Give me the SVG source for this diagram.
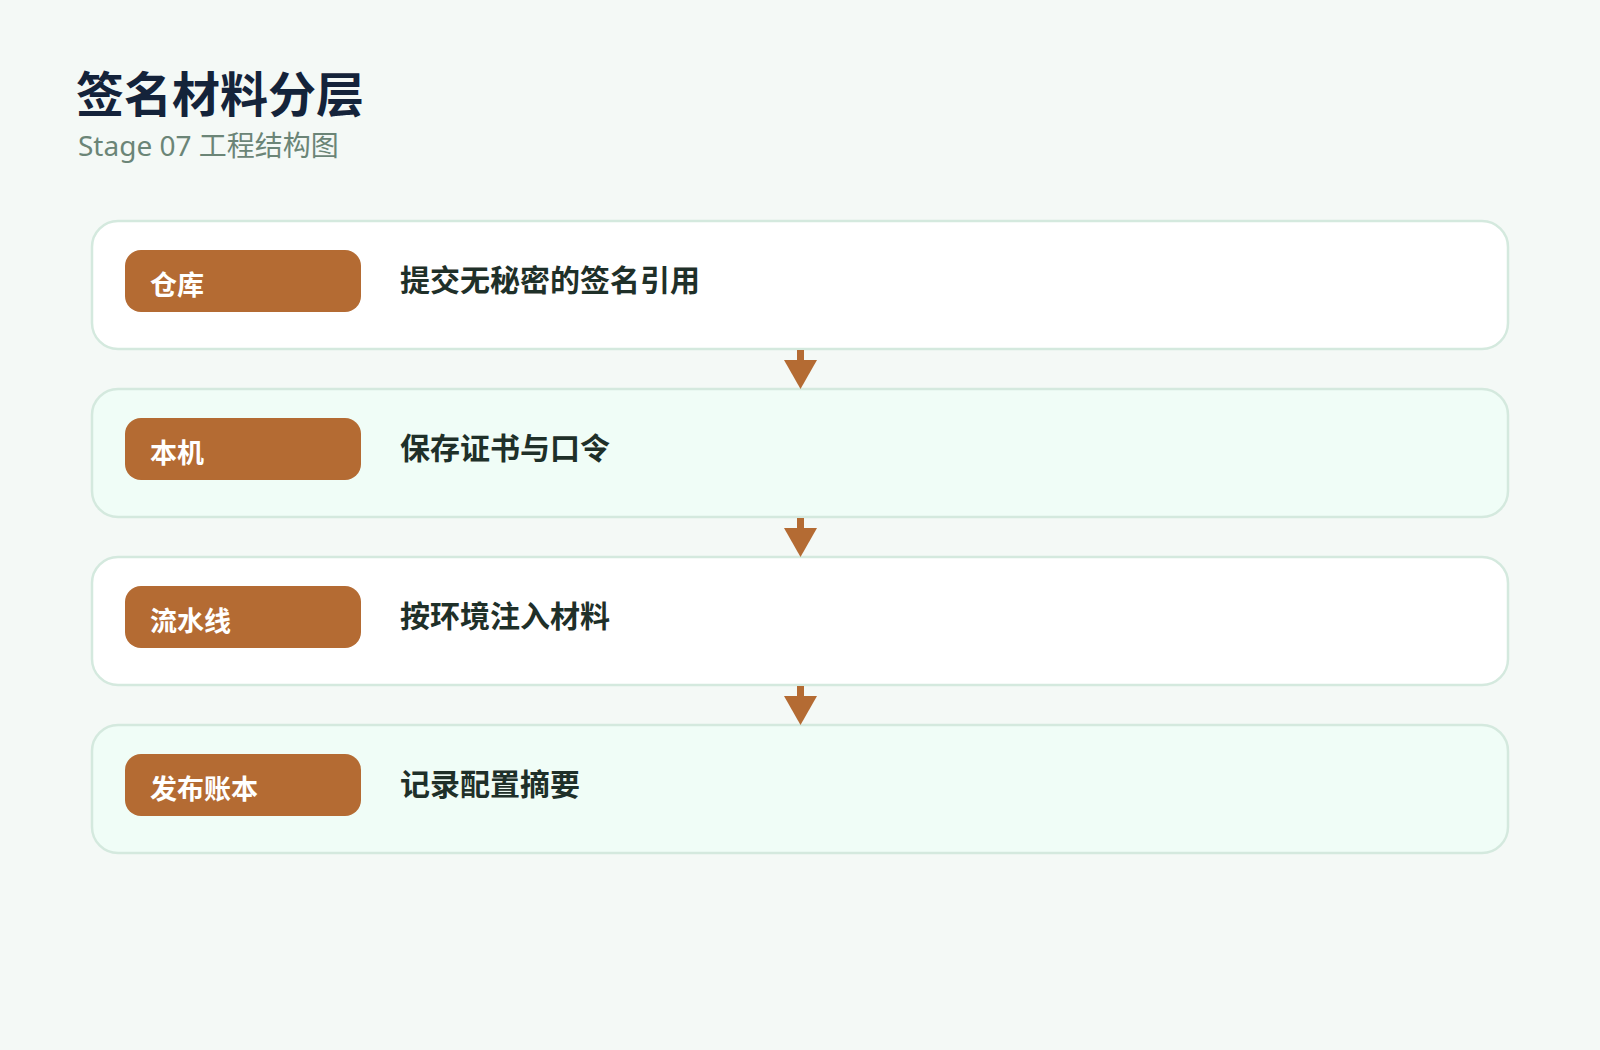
<svg xmlns="http://www.w3.org/2000/svg" width="1600" height="1050" viewBox="0 0 1600 1050">
  <style>
    .bg { fill: #f4f9f6; }
    .card { stroke: #d4e9de; stroke-width: 2.5; }
    .card-a { fill: #ffffff; }
    .card-b { fill: #f0fdf7; }
    .badge { fill: #b46b33; }
    .badge-text { font-family: "Noto Sans CJK SC", "Noto Sans", sans-serif; font-size: 27px; font-weight: 700; fill: #ffffff; }
    .desc { font-family: "Noto Sans CJK SC", "Noto Sans", sans-serif; font-size: 30px; font-weight: 700; fill: #1f3029; }
    .title { font-family: "Noto Sans CJK SC", "Noto Sans", sans-serif; font-size: 48px; font-weight: 700; fill: #14233a; }
    .subtitle { font-family: "Noto Sans", "Noto Sans CJK SC", sans-serif; font-size: 28px; font-weight: 400; fill: #6b8577; }
    .arrow-shaft { stroke: #b46b33; stroke-width: 7; }
    .arrow-head { fill: #b46b33; }
  </style>
  <rect class="bg" x="0" y="0" width="1600" height="1050"/>

  <g id="header">
    <text class="title" x="76" y="112">签名材料分层</text>
    <text class="subtitle" x="78" y="156">Stage 07 工程结构图</text>
  </g>

  <g id="node-repo">
    <rect class="card card-a" x="92" y="221" width="1416" height="128" rx="26"/>
    <rect class="badge" x="125" y="250" width="236" height="62" rx="16"/>
    <text class="badge-text" x="150" y="295">仓库</text>
    <text class="desc" x="400" y="291">提交无秘密的签名引用</text>
  </g>

  <g id="node-local">
    <rect class="card card-b" x="92" y="389" width="1416" height="128" rx="26"/>
    <rect class="badge" x="125" y="418" width="236" height="62" rx="16"/>
    <text class="badge-text" x="150" y="463">本机</text>
    <text class="desc" x="400" y="459">保存证书与口令</text>
  </g>

  <g id="node-pipeline">
    <rect class="card card-a" x="92" y="557" width="1416" height="128" rx="26"/>
    <rect class="badge" x="125" y="586" width="236" height="62" rx="16"/>
    <text class="badge-text" x="150" y="631">流水线</text>
    <text class="desc" x="400" y="627">按环境注入材料</text>
  </g>

  <g id="node-ledger">
    <rect class="card card-b" x="92" y="725" width="1416" height="128" rx="26"/>
    <rect class="badge" x="125" y="754" width="236" height="62" rx="16"/>
    <text class="badge-text" x="150" y="799">发布账本</text>
    <text class="desc" x="400" y="795">记录配置摘要</text>
  </g>

  <g id="connectors">
    <line class="arrow-shaft" x1="800.5" y1="350" x2="800.5" y2="364"/>
    <polygon class="arrow-head" points="784,360 817,360 800.5,389"/>
    <line class="arrow-shaft" x1="800.5" y1="518" x2="800.5" y2="532"/>
    <polygon class="arrow-head" points="784,528 817,528 800.5,557"/>
    <line class="arrow-shaft" x1="800.5" y1="686" x2="800.5" y2="700"/>
    <polygon class="arrow-head" points="784,696 817,696 800.5,725"/>
  </g>
</svg>
